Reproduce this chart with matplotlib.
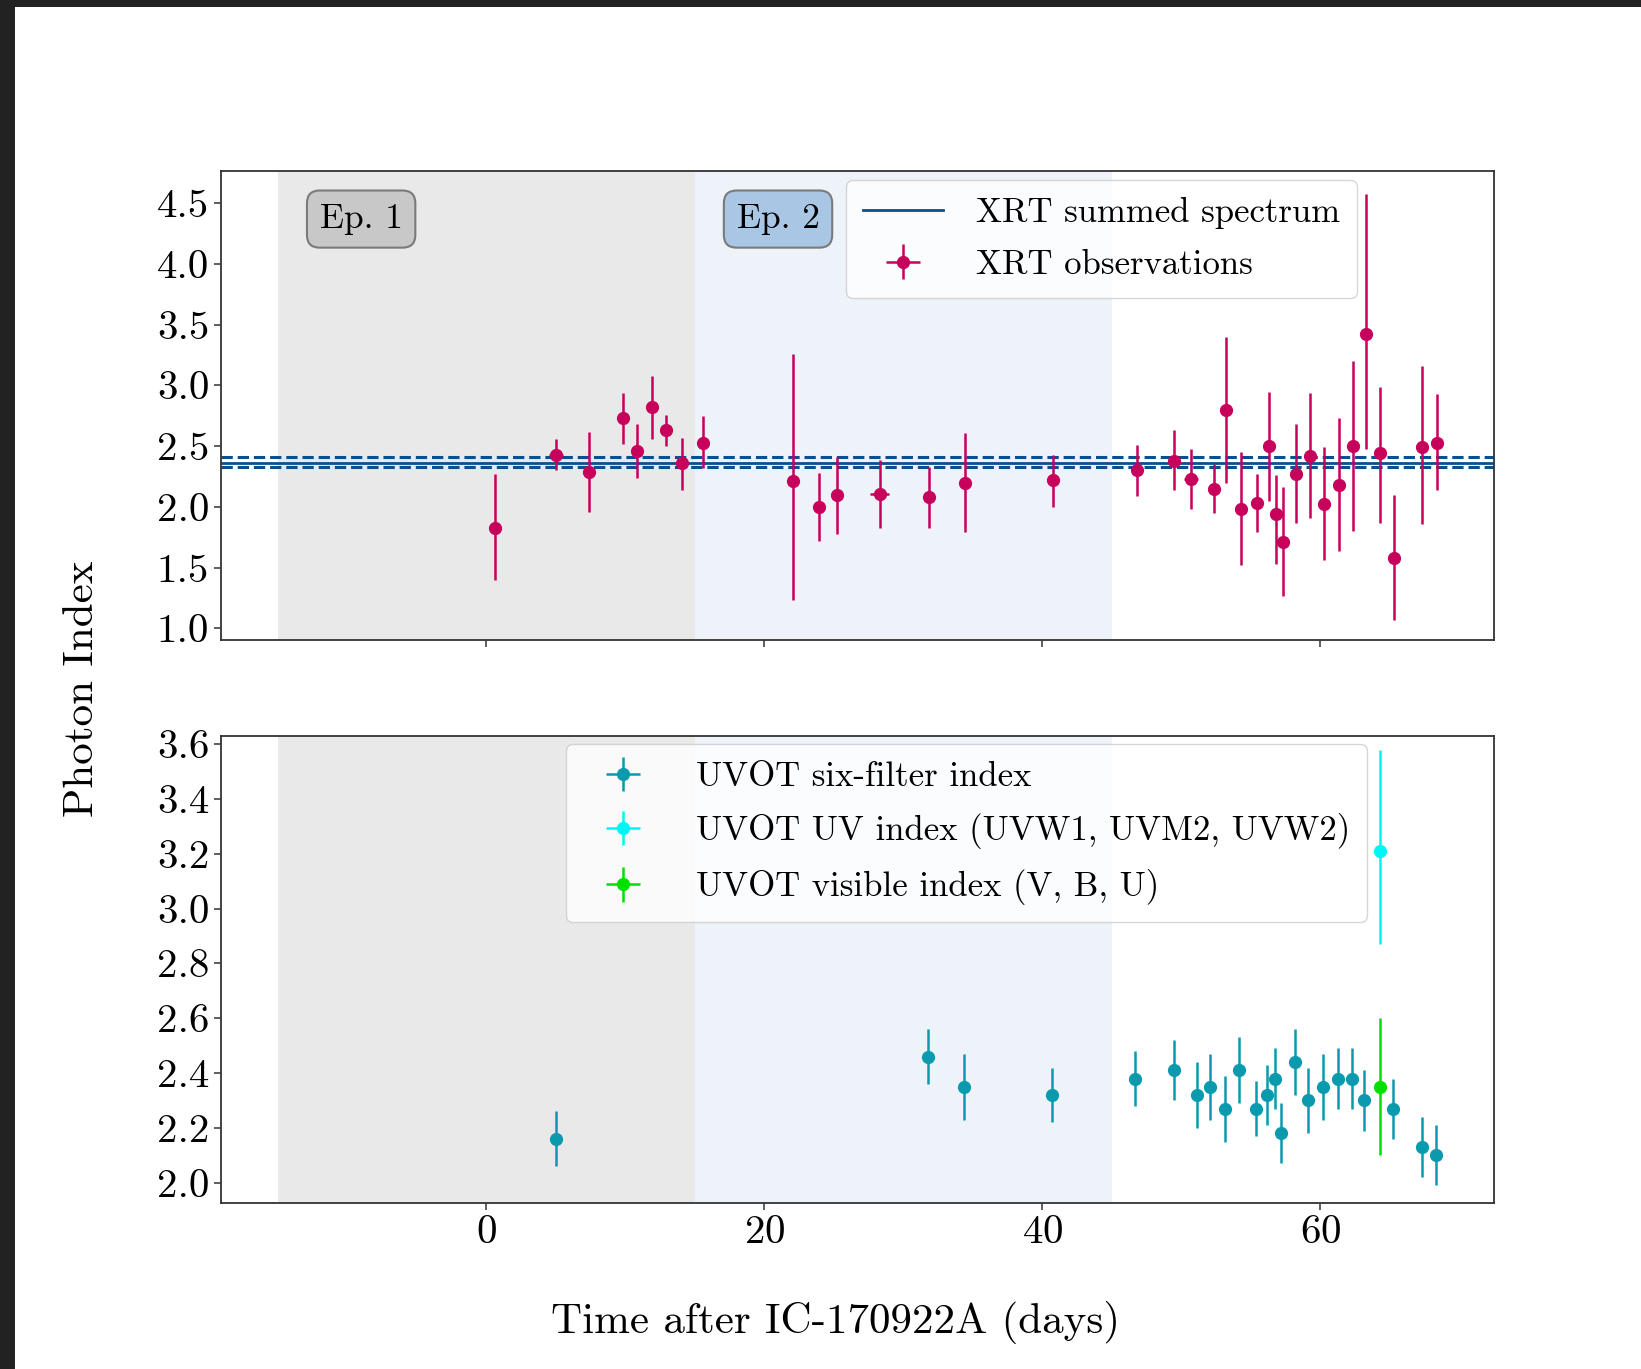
import matplotlib
matplotlib.use("Agg")
import matplotlib.pyplot as plt
from matplotlib.patches import Rectangle
from matplotlib.ticker import FormatStrFormatter

plt.rcParams['font.family'] = 'serif'
plt.rcParams['font.serif'] = ['cmr10']
plt.rcParams['mathtext.fontset'] = 'cm'
plt.rcParams['axes.formatter.use_mathtext'] = True

# XRT photon index per observation
xrt_t = [0.6, 5.0, 7.4, 9.8, 10.85, 11.9, 12.95, 14.05, 15.6, 22.05, 23.9, 25.25,
         28.3, 31.85, 34.45, 40.75, 46.8, 49.5, 50.7, 52.35, 53.25, 54.3, 55.45,
         56.3, 56.8, 57.3, 58.25, 59.25, 60.25, 61.35, 62.35, 63.3, 64.3, 65.3,
         67.35, 68.4]
xrt_dt = [0.25, 0.5, 0.25, 0.25, 0.25, 0.25, 0.25, 0.25, 0.25, 0.25, 0.25, 0.25,
          0.7, 0.25, 0.25, 0.25, 0.25, 0.25, 0.5, 0.25, 0.25, 0.25, 0.25,
          0.25, 0.25, 0.25, 0.25, 0.25, 0.25, 0.25, 0.25, 0.25, 0.25, 0.25,
          0.25, 0.25]
xrt_idx = [1.83, 2.43, 2.29, 2.73, 2.46, 2.82, 2.63, 2.36, 2.53, 2.21, 2.00, 2.10,
           2.11, 2.08, 2.20, 2.22, 2.30, 2.38, 2.23, 2.15, 2.80, 1.98, 2.03,
           2.50, 1.94, 1.71, 2.27, 2.42, 2.02, 2.18, 2.50, 3.42, 2.44, 1.58,
           2.49, 2.53]
xrt_lo = [0.43, 0.13, 0.33, 0.21, 0.22, 0.26, 0.13, 0.22, 0.21, 0.98, 0.28, 0.32,
          0.28, 0.25, 0.41, 0.22, 0.21, 0.24, 0.25, 0.20, 0.60, 0.46, 0.24,
          0.45, 0.41, 0.44, 0.40, 0.51, 0.46, 0.54, 0.70, 0.94, 0.57, 0.51,
          0.63, 0.39]
xrt_hi = [0.44, 0.13, 0.33, 0.21, 0.22, 0.26, 0.13, 0.21, 0.22, 1.05, 0.28, 0.31,
          0.28, 0.25, 0.41, 0.21, 0.21, 0.25, 0.25, 0.20, 0.60, 0.47, 0.24,
          0.45, 0.32, 0.45, 0.41, 0.52, 0.47, 0.55, 0.70, 1.16, 0.55, 0.52,
          0.67, 0.40]

# summed spectrum: best fit and bounds
sum_idx = 2.36
sum_lo = 2.325
sum_hi = 2.41

# UVOT six-filter index
uv_t = [5.0, 31.8, 34.35, 40.7, 46.7, 49.45, 51.15, 52.1, 53.15, 54.15, 55.35,
        56.2, 56.75, 57.2, 58.2, 59.15, 60.2, 61.25, 62.3, 63.15, 65.2, 67.3, 68.3]
uv_idx = [2.16, 2.46, 2.35, 2.32, 2.38, 2.41, 2.32, 2.35, 2.27, 2.41, 2.27,
          2.32, 2.38, 2.18, 2.44, 2.30, 2.35, 2.38, 2.38, 2.30, 2.27, 2.13, 2.10]
uv_err = [0.10, 0.10, 0.12, 0.10, 0.10, 0.11, 0.12, 0.12, 0.12, 0.12, 0.10,
          0.11, 0.11, 0.11, 0.12, 0.12, 0.12, 0.11, 0.11, 0.11, 0.11, 0.11, 0.11]

# UV-only and visible-only indices
uvuv_t = [64.3]
uvuv_idx = [3.21]
uvuv_lo = [0.34]
uvuv_hi = [0.37]
vis_t = [64.3]
vis_idx = [2.35]
vis_err = [0.25]

ep1 = (-15, 15)
ep2 = (15, 45)

c_xrt = '#c7005c'
c_sum = '#0b4f8f'
c_uv = '#0a9aae'

fig = plt.figure(figsize=(16.41, 13.69), dpi=100)
ax1 = fig.add_axes([0.1347, 0.5325, 0.7757, 0.3426])
ax2 = fig.add_axes([0.1347, 0.1213, 0.7757, 0.3411], sharex=ax1)

for ax in (ax1, ax2):
    ax.axvspan(*ep1, color='#e9e9e9', zorder=0, lw=0)
    ax.axvspan(*ep2, color='#eef3fa', zorder=0, lw=0)
    for s in ax.spines.values():
        s.set_linewidth(1.3)
        s.set_color('#333333')
    ax.tick_params(labelsize=29.5, width=1.1, length=5, color='#333333')

# top panel: XRT
ax1.axhline(sum_idx, color=c_sum, lw=2, label='XRT summed spectrum')
ax1.axhline(sum_hi, color=c_sum, lw=2.2, ls='--')
ax1.axhline(sum_lo, color=c_sum, lw=2.2, ls='--')
ax1.errorbar(xrt_t, xrt_idx, yerr=[xrt_lo, xrt_hi], xerr=xrt_dt, fmt='o',
             color=c_xrt, ms=8.5, elinewidth=1.8, capsize=0, label='XRT observations')

ax1.text(-12, 4.37, 'Ep. 1', fontsize=25.5, va='center', ha='left',
         bbox=dict(boxstyle='round,pad=0.36', fc='#c8c8c8', ec='#7a7a7a', lw=1.5))
ax1.text(18, 4.37, 'Ep. 2', fontsize=25.5, va='center', ha='left',
         bbox=dict(boxstyle='round,pad=0.36', fc='#a9c7e5', ec='#7a7a7a', lw=1.5))

ax1.set_ylim(0.904, 4.766)
ax1.set_yticks([1.0, 1.5, 2.0, 2.5, 3.0, 3.5, 4.0, 4.5])
ax1.yaxis.set_major_formatter(FormatStrFormatter('%.1f'))
ax1.tick_params(labelbottom=False)
ax1.legend(loc='upper left', bbox_to_anchor=(0.491, 0.981), borderaxespad=0,
           fontsize=25, handlelength=2.3, handletextpad=0.95,
           labelspacing=0.58, borderpad=0.49)

# bottom panel: UVOT
ax2.errorbar(uv_t, uv_idx, yerr=uv_err, xerr=0.2, fmt='o', color=c_uv, ms=8.5,
             elinewidth=1.8, capsize=0, label='UVOT six-filter index')
ax2.errorbar(uvuv_t, uvuv_idx, yerr=[uvuv_lo, uvuv_hi], xerr=0.2, fmt='o',
             color='#00f5f5', ms=8.5, elinewidth=1.8, capsize=0,
             label='UVOT UV index (UVW1, UVM2, UVW2)')
ax2.errorbar(vis_t, vis_idx, yerr=vis_err, xerr=0.2, fmt='o', color='#00e000',
             ms=8.5, elinewidth=1.8, capsize=0, label='UVOT visible index (V, B, U)')

ax2.set_ylim(1.926, 3.63)
ax2.set_yticks([2.0, 2.2, 2.4, 2.6, 2.8, 3.0, 3.2, 3.4, 3.6])
ax2.yaxis.set_major_formatter(FormatStrFormatter('%.1f'))
ax2.set_xlim(-19.1, 72.5)
ax2.set_xticks([0, 20, 40, 60])
ax2.legend(loc='upper left', bbox_to_anchor=(0.271, 0.982), borderaxespad=0,
           fontsize=25, handlelength=2.3, handletextpad=0.95,
           labelspacing=0.58, borderpad=0.49)

fig.text(0.05, 0.497, 'Photon Index', rotation=90, fontsize=31,
         ha='center', va='center')
fig.text(0.509, 0.034, 'Time after IC-170922A (days)', fontsize=31,
         ha='center', va='center')

# dark frame of the screenshot
fig.add_artist(Rectangle((0, 0), 15 / 1641, 1, transform=fig.transFigure,
                         color='#222222', lw=0))
fig.add_artist(Rectangle((0, 1 - 7 / 1369), 1, 7 / 1369, transform=fig.transFigure,
                         color='#222222', lw=0))

fig.savefig('out.png', dpi=100)
